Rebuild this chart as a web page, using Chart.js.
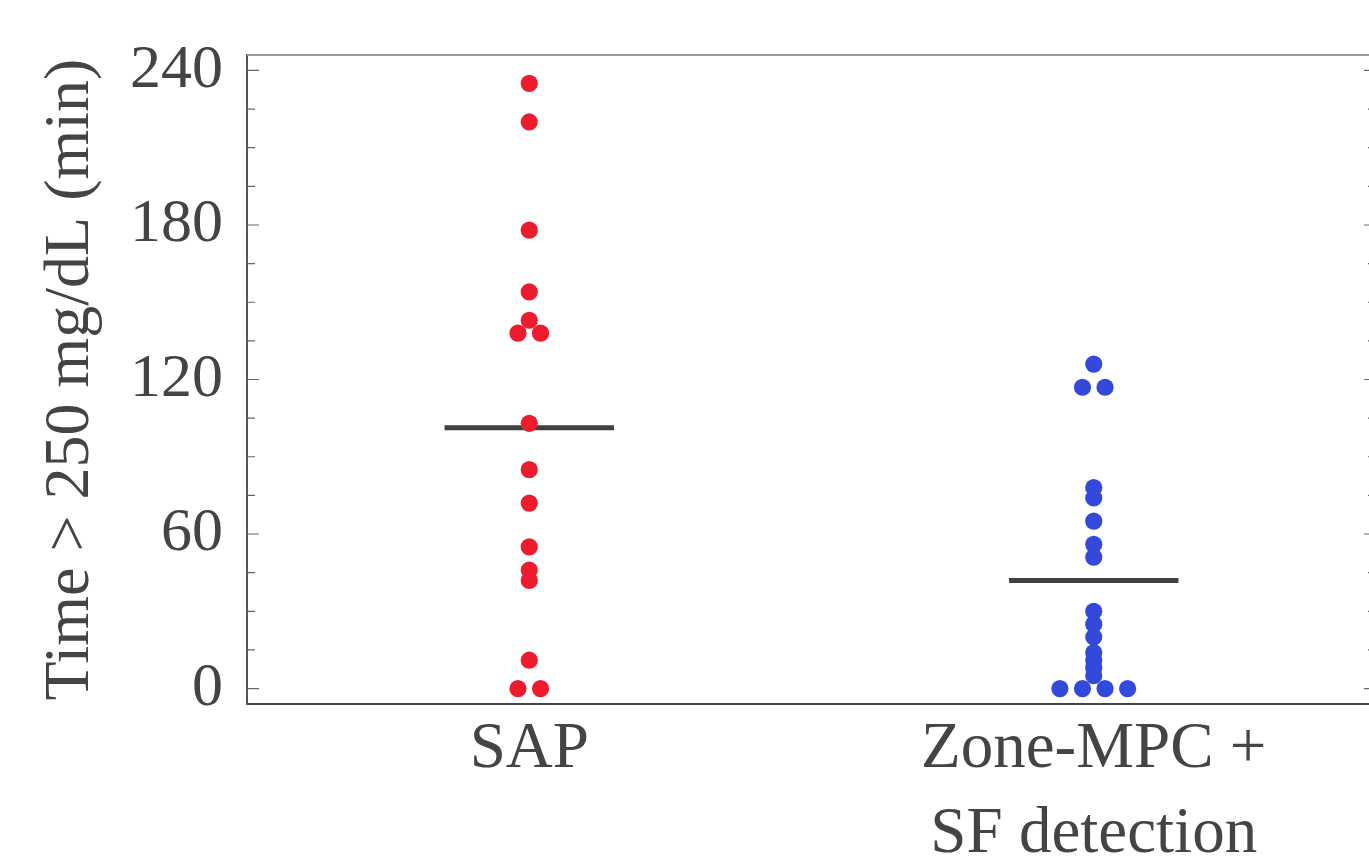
<!DOCTYPE html>
<html><head><meta charset="utf-8">
<script src="https://cdn.jsdelivr.net/npm/chart.js@4"></script>
<style>html,body{margin:0;padding:0;overflow:hidden;background:#fff}#wrap{width:1380px;height:859px;position:relative}</style>
</head><body><div id="wrap"><canvas id="c"></canvas></div>
<script>
const categories = [["SAP"], ["Zone-MPC +", "SF detection"]];
const sapValues = [235, 220, 178, 154, 143, 138, 138, 103, 85, 72, 55, 46, 42, 11, 0, 0];
const zoneValues = [126, 117, 117, 78, 74, 65, 56, 51, 30, 25, 20, 14, 11, 8, 5, 0, 0, 0, 0];
const yTickValues = [0, 60, 120, 180, 240];
const yMinorStep = 15;
const yTitle = "Time > 250 mg/dL (min)";

const FONT = "'Liberation Serif', 'DejaVu Serif', serif";
const TEXT = '#444';

function spread(values, center) {
  const counts = {}, seen = {};
  values.forEach(v => counts[v] = (counts[v] || 0) + 1);
  return values.map(v => {
    const n = counts[v]; const k = seen[v] || 0; seen[v] = k + 1;
    return {x: center + (k - (n - 1) / 2) * 0.04, y: v};
  });
}
const mean = a => a.reduce((s, v) => s + v, 0) / a.length;
function meanLine(values, center) {
  const m = mean(values);
  return [{x: center - 0.15, y: m}, {x: center + 0.15, y: m}];
}

const frame = {
  id: 'frame',
  afterDatasetsDraw(chart) {
    const {ctx, chartArea: {left, right, top}} = chart;
    const y = chart.scales.y;
    ctx.save();
    ctx.strokeStyle = '#666'; ctx.lineWidth = 1.2;
    for (let v = yTickValues[0]; v <= yTickValues[yTickValues.length - 1]; v += yMinorStep) {
      const py = y.getPixelForValue(v);
      const len = yTickValues.includes(v) ? 12 : 8;
      ctx.beginPath();
      ctx.moveTo(left, py); ctx.lineTo(left + len, py);
      ctx.moveTo(right, py); ctx.lineTo(right - len, py);
      ctx.stroke();
    }
    ctx.strokeStyle = '#999'; ctx.lineWidth = 2;
    ctx.beginPath(); ctx.moveTo(left, top); ctx.lineTo(right, top); ctx.stroke();
    ctx.restore();
  }
};

new Chart(document.getElementById('c'), {
  type: 'scatter',
  data: {
    datasets: [
      {data: spread(sapValues, 1), backgroundColor: 'rgb(237,27,46)', borderWidth: 0, pointRadius: 8.6, pointHoverRadius: 8.6},
      {data: spread(zoneValues, 2), backgroundColor: 'rgb(51,73,219)', borderWidth: 0, pointRadius: 8.6, pointHoverRadius: 8.6},
      {data: meanLine(sapValues, 1), showLine: true, borderColor: '#404040', borderWidth: 5, pointRadius: 0, borderCapStyle: 'butt'},
      {data: meanLine(zoneValues, 2), showLine: true, borderColor: '#404040', borderWidth: 5, pointRadius: 0, borderCapStyle: 'butt'}
    ]
  },
  options: {
    responsive: true, maintainAspectRatio: false, animation: false,
    layout: {autoPadding: false, padding: {top: 55, right: 4, left: 0, bottom: 0}},
    plugins: {legend: {display: false}, tooltip: {enabled: false}},
    scales: {
      x: {
        type: 'linear', min: 0.5, max: 2.5,
        afterBuildTicks: s => { s.ticks = categories.map((c, i) => ({value: i + 1})); },
        afterFit: s => { s.height = 155; s.paddingLeft = 0; s.paddingRight = 0; },
        ticks: {
          callback: (v, i) => categories[i],
          font: {family: FONT, size: 65, lineHeight: 1.31}, color: TEXT, padding: 3,
          maxRotation: 0, autoSkip: false
        },
        grid: {drawOnChartArea: false, drawTicks: false},
        border: {display: true, color: '#444', width: 2}
      },
      y: {
        min: -6, max: 246,
        afterBuildTicks: s => { s.ticks = yTickValues.map(v => ({value: v})); },
        afterFit: s => { s.width = 247; s.paddingTop = 0; s.paddingBottom = 0; },
        ticks: {font: {family: FONT, size: 62}, color: TEXT, padding: 24},
        grid: {drawOnChartArea: false, drawTicks: false},
        border: {display: true, color: '#555', width: 2},
        title: {display: true, text: yTitle, font: {family: FONT, size: 64}, color: TEXT, padding: {top: 33, bottom: 0}}
      }
    }
  },
  plugins: [frame]
});
</script>
</body></html>
